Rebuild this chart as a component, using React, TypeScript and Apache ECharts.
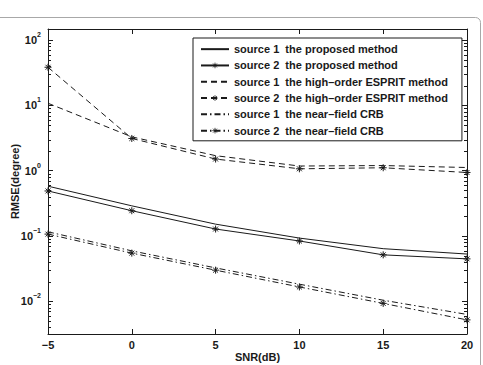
import React, { useEffect, useRef } from "react";
import * as echarts from "echarts";

// SNR values (dB) on the x axis
const snr = [-5, 0, 5, 10, 15, 20];

// RMSE (degree) per method and source
const proposedSource1 = [0.58, 0.29, 0.152, 0.093, 0.064, 0.053];
const proposedSource2 = [0.49, 0.244, 0.128, 0.084, 0.0515, 0.0447];
const espritSource1 = [10.8, 3.3, 1.7, 1.18, 1.2, 1.12];
const espritSource2 = [38.4, 3.12, 1.51, 1.07, 1.11, 0.94];
const crbSource1 = [0.116, 0.0593, 0.0325, 0.0183, 0.0104, 0.0063];
const crbSource2 = [0.107, 0.0547, 0.03, 0.0166, 0.0093, 0.0052];

const seriesNames = [
  "source 1  the proposed method",
  "source 2  the proposed method",
  "source 1  the high\u2013order ESPRIT method",
  "source 2  the high\u2013order ESPRIT method",
  "source 1  the near\u2013field CRB",
  "source 2  the near\u2013field CRB",
];
const hasMarker = [false, true, false, true, false, true];

// log-axis minor tick positions (2..9 within each decade)
const minorTickValues = [
  0.004, 0.005, 0.006, 0.007, 0.008, 0.009,
  0.02, 0.03, 0.04, 0.05, 0.06, 0.07, 0.08, 0.09,
  0.2, 0.3, 0.4, 0.5, 0.6, 0.7, 0.8, 0.9,
  2, 3, 4, 5, 6, 7, 8, 9,
  20, 30, 40, 50, 60, 70, 80, 90,
];

const yMin = 0.00316;
const yMax = 148;

const FONT = "'Liberation Sans', Arial, Helvetica, sans-serif";
const INK = "#1a1a1a";
const STAR = "path://M5 0L5 10M0 5L10 5M1.5 1.5L8.5 8.5M1.5 8.5L8.5 1.5";
const DASH = [6, 4];
const DASH_DOT = [6, 3, 1.5, 3];

const textBase = { fontFamily: FONT, fontWeight: "bold" as const, fontSize: 11, color: INK };

function lineSeries(name: string, values: number[], dash: number[] | "solid", star: boolean) {
  return {
    name,
    type: "line",
    data: snr.map((x, i) => [x, values[i]]),
    color: INK,
    clip: false,
    symbol: STAR,
    showSymbol: star,
    symbolSize: 7,
    itemStyle: { color: INK, borderColor: INK, borderWidth: 1 },
    lineStyle: { color: INK, width: 1, type: dash },
    emphasis: { disabled: true },
    z: 3,
  };
}

export default function App() {
  const ref = useRef<HTMLDivElement>(null);

  useEffect(() => {
    document.body.style.margin = "0";
    const chart = echarts.init(ref.current!, null, { renderer: "svg" });

    const expLabel = (v: number) => {
      const e = Math.round(Math.log10(v));
      const s = e < 0 ? "\u2212" + Math.abs(e) : String(e);
      return `{b|10}{e|${s}}`;
    };

    const yCommon = {
      type: "log",
      logBase: 10,
      min: yMin,
      max: yMax,
      axisLine: { show: true, onZero: false, lineStyle: { color: INK, width: 1 } },
      axisTick: { show: true, inside: true, length: 5, lineStyle: { color: INK } },
      splitLine: { show: false },
    };
    const xCommon = {
      type: "value",
      min: -5,
      max: 20,
      interval: 5,
      axisLine: { show: true, onZero: false, lineStyle: { color: INK, width: 1 } },
      axisTick: { show: true, inside: true, length: 5, lineStyle: { color: INK } },
      splitLine: { show: false },
    };

    chart.setOption({
      animation: false,
      backgroundColor: "#ffffff",
      grid: {
        left: 48,
        right: 16,
        top: 29,
        bottom: 31,
        containLabel: false,
        outerBoundsMode: "none",
      },
      xAxis: [
        {
          ...xCommon,
          position: "bottom",
          axisLabel: {
            ...textBase,
            margin: 5,
            formatter: (v: number) => (v < 0 ? "\u2212" + Math.abs(v) : String(v)),
          },
          name: "SNR(dB)",
          nameLocation: "middle",
          nameGap: 17,
          nameMoveOverlap: false,
          nameTextStyle: { ...textBase },
        },
        { ...xCommon, position: "top", axisLabel: { show: false } },
      ],
      yAxis: [
        {
          ...yCommon,
          position: "left",
          axisLabel: {
            margin: 7,
            showMinLabel: false,
            showMaxLabel: false,
            formatter: expLabel,
            rich: {
              b: { ...textBase, lineHeight: 18 },
              e: { ...textBase, fontSize: 7, lineHeight: 7, verticalAlign: "top" },
            },
          },
          name: "RMSE(degree)",
          nameLocation: "middle",
          nameGap: 28,
          nameMoveOverlap: false,
          nameTextStyle: { ...textBase },
        },
        { ...yCommon, position: "right", axisLabel: { show: false } },
      ],
      legend: {
        orient: "vertical",
        left: 193,
        top: 38,
        data: seriesNames.map((name, i) => ({
          name,
          itemStyle: hasMarker[i] ? { opacity: 1, borderWidth: 0.8 } : { opacity: 0 },
        })),
        itemWidth: 28,
        itemHeight: 7,
        itemGap: 2,
        padding: [4, 14, 3, 7],
        borderColor: INK,
        borderWidth: 1,
        borderRadius: 0,
        backgroundColor: "#ffffff",
        selectedMode: false,
        textStyle: { ...textBase, lineHeight: 14.3 },
      },
      graphic: [
        {
          type: "rect",
          silent: true,
          shape: { x: -6, y: 17.5, width: 486.5, height: 360, r: 5 },
          style: { fill: "none", stroke: "#a8a8a8", lineWidth: 1 },
        },
      ],
      series: [
        lineSeries(seriesNames[0], proposedSource1, "solid", false),
        lineSeries(seriesNames[1], proposedSource2, "solid", true),
        lineSeries(seriesNames[2], espritSource1, DASH, false),
        lineSeries(seriesNames[3], espritSource2, DASH, true),
        lineSeries(seriesNames[4], crbSource1, DASH_DOT, false),
        lineSeries(seriesNames[5], crbSource2, DASH_DOT, true),
        {
          type: "custom",
          name: "minor ticks",
          silent: true,
          clip: false,
          data: minorTickValues.map((v) => [-5, v]),
          encode: { x: 0, y: 1 },
          renderItem: (params: any, api: any) => {
            const cs = params.coordSys;
            const y = Math.round(api.coord([-5, api.value(1)])[1]) + 0.5;
            const style = { stroke: INK, lineWidth: 1 };
            return {
              type: "group",
              children: [
                { type: "line", shape: { x1: cs.x, y1: y, x2: cs.x + 3, y2: y }, style },
                {
                  type: "line",
                  shape: { x1: cs.x + cs.width - 3, y1: y, x2: cs.x + cs.width, y2: y },
                  style,
                },
              ],
            };
          },
        },
      ],
    });

    return () => chart.dispose();
  }, []);

  return (
    <div
      ref={ref}
      style={{ position: "absolute", left: 0, top: 0, width: 483, height: 365 }}
    />
  );
}
